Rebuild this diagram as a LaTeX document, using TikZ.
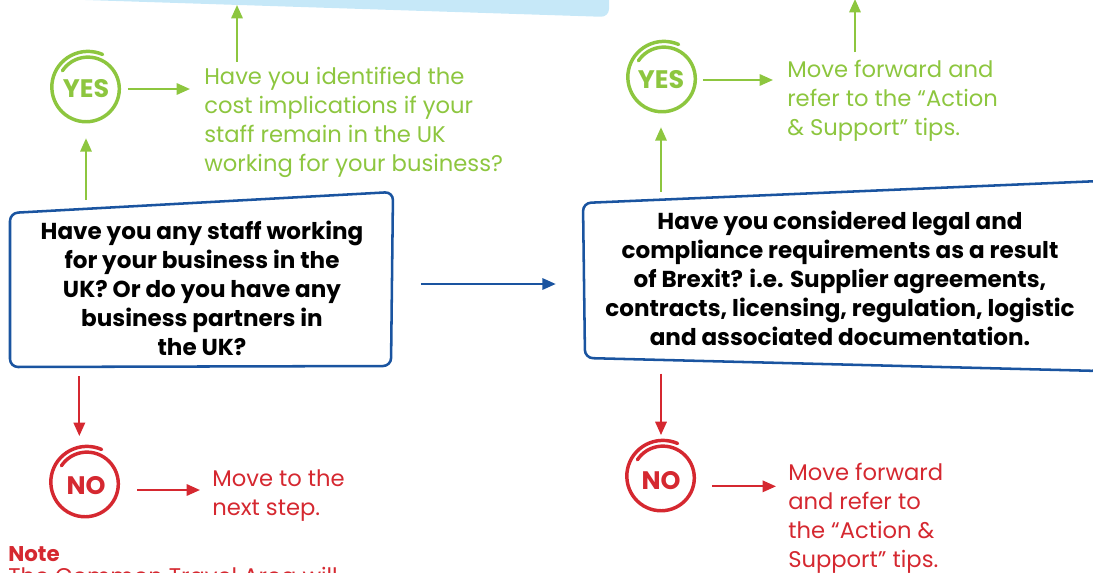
\documentclass[tikz,border=0pt]{standalone}
\usepackage{fontspec}
\setmainfont{Poppins}
\usetikzlibrary{arrows.meta,positioning}

\definecolor{yesgreen}{RGB}{141,198,63}
\definecolor{nored}{RGB}{213,40,48}
\definecolor{qblue}{RGB}{26,84,160}
\definecolor{skyband}{RGB}{198,232,248}

\tikzset{
  flow/.style={line width=1.6pt, -{Triangle[length=10pt,width=8.5pt]}},
  answer/.style={font=\fontsize{17}{21.75}\selectfont, align=left, inner sep=0pt, anchor=north west},
  question/.style={font=\bfseries\fontsize{17.3}{21.75}\selectfont, align=center, inner sep=0pt},
  ring/.style={circle, minimum size=52.5pt, inner sep=0pt, text=#1, font=\bfseries\fontsize{19}{19}\selectfont},
  qborder/.style={draw=qblue, line width=1.9pt, rounded corners=6pt}
}

% hand drawn loop round a yes/no node
\newcommand{\ringmark}[3]{%
  \draw[#3, line width=2.6pt, line cap=round]
    plot[smooth, domain=65:505, samples=70]
    ({#1+(37-7*(\x-65)/440)*cos(\x)}, {#2-(37-7*(\x-65)/440)*sin(\x)});}

\begin{document}
\begin{tikzpicture}[x=0.75pt, y=-0.75pt]
    \useasboundingbox (0,0) rectangle (1093,572);

    % light blue band at the top
    \fill[skyband, rounded corners=6pt] (30,-40) -- (609,-40) -- (609,17) -- (30,-1.8) -- cycle;

    % first question
    \node[question, minimum width=286pt, minimum height=132pt] (staffq) at (202,288)
        {Have you any staff working\\for your business in the\\UK? Or do you have any\\business partners in\\the UK?};
    \draw[qborder] (10,213) -- (393,192) -- (391,366) -- (10,367) -- cycle;

    % its yes branch
    \node[ring=yesgreen] (yesA) at (86,89) {YES};
    \ringmark{87}{88}{yesgreen}
    \node[answer, text=yesgreen] (costq) at (204,67)
        {Have you identified the\\cost implications if your\\staff remain in the UK\\working for your business?};
    \coordinate (upA) at (237,5);

    % its no branch
    \node[ring=nored] (noA) at (86,486) {NO};
    \ringmark{86}{483}{nored}
    \node[answer, text=nored] (nextq) at (212,469) {Move to the\\next step.};

    % second question
    \node[question, minimum width=380pt, minimum height=129pt] (legalq) at (840,278)
        {Have you considered legal and\\compliance requirements as a result\\of Brexit? i.e. Supplier agreements,\\contracts, licensing, regulation, logistic\\and associated documentation.};
    \draw[qborder] (583,203) -- (1100,181) -- (1100,371) -- (585,358) -- cycle;

    % its yes branch
    \node[ring=yesgreen] (yesB) at (661,80) {YES};
    \ringmark{663}{78}{yesgreen}
    \node[answer, text=yesgreen] (fwdq) at (787,60)
        {Move forward and\\refer to the “Action\\\& Support” tips.};
    \coordinate (upB) at (855,-1);

    % its no branch
    \node[ring=nored] (noB) at (661,481) {NO};
    \ringmark{662}{477}{nored}
    \node[answer, text=nored] (fwdr) at (788,463)
        {Move forward\\and refer to\\the “Action \&\\Support” tips.};

    % note, cut off at the foot
    \node[font=\bfseries\fontsize{16}{16}\selectfont, text=nored, inner sep=0pt, anchor=north west] (note) at (8,546) {Note};
    \node[font=\fontsize{17}{17}\selectfont, text=nored, inner sep=0pt, below=4pt of note.south west, anchor=north west] (notetext) {The Common Travel Area will};

    % connectors
    \draw[flow, yesgreen, shorten >=10.5pt] (staffq.north -| yesA) -- (yesA);
    \draw[flow, yesgreen, shorten <=5pt, shorten >=10.5pt] (yesA) -- (yesA -| costq.west);
    \draw[flow, yesgreen, shorten <=4pt] (costq.north -| upA) -- (upA);
    \draw[flow, nored, shorten >=11pt] ([xshift=-5pt]staffq.south -| noA) -- ([xshift=-5pt]noA.north);
    \draw[flow, nored, shorten <=12pt, shorten >=9pt] ([yshift=-3pt]noA.east) -- ([yshift=-3pt]noA.east -| nextq.west);
    \draw[flow, qblue, shorten <=21pt, shorten >=23pt] ([yshift=3pt]staffq.east) -- ([yshift=3pt]staffq.east -| legalq.west);
    \draw[flow, yesgreen, shorten >=9pt] (legalq.north -| yesB) -- (yesB);
    \draw[flow, yesgreen, shorten <=5pt, shorten >=10.5pt] (yesB) -- (yesB -| fwdq.west);
    \draw[flow, yesgreen, shorten <=6pt] (fwdq.north -| upB) -- (upB);
    \draw[flow, nored, shorten >=8pt] ([yshift=-7pt]legalq.south -| noB) -- (noB);
    \draw[flow, nored, shorten <=12pt, shorten >=9pt] ([yshift=-4pt]noB.east) -- ([yshift=-4pt]noB.east -| fwdr.west);
\end{tikzpicture}
\end{document}
